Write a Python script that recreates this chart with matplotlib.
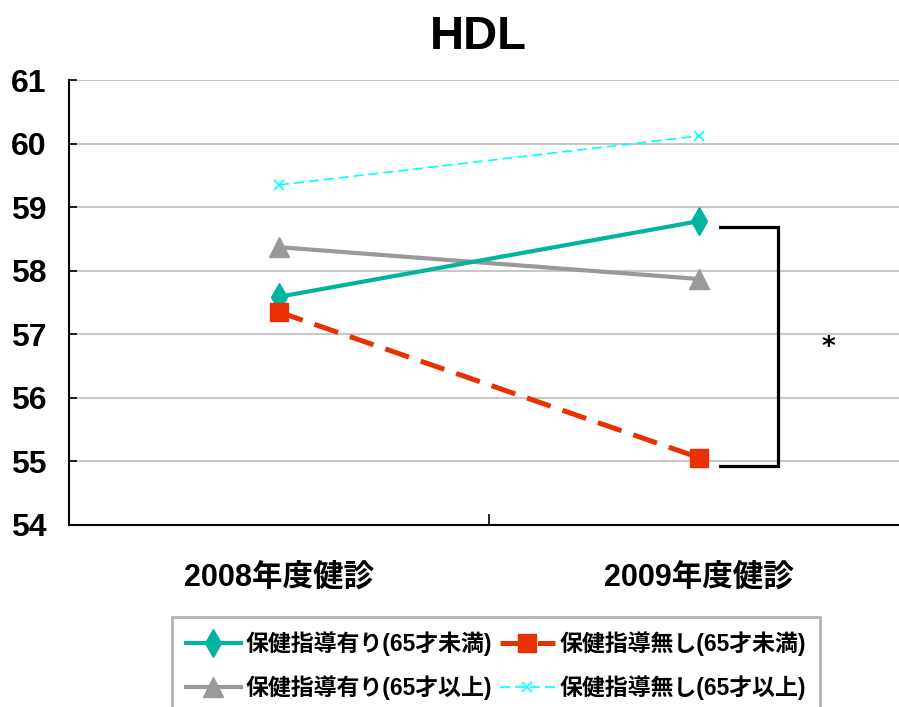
import matplotlib
matplotlib.use("Agg")
import matplotlib.pyplot as plt
from matplotlib.ticker import FixedLocator

# data
categories = ["2008年度健診", "2009年度健診"]
with_guidance_u65 = [57.59, 58.78]
without_guidance_u65 = [57.35, 55.06]
with_guidance_65up = [58.37, 57.87]
without_guidance_65up = [59.35, 60.12]
series_labels = ["保健指導有り(65才未満)", "保健指導無し(65才未満)",
                 "保健指導有り(65才以上)", "保健指導無し(65才以上)"]
yticks = [54, 55, 56, 57, 58, 59, 60, 61]

num_font = ["Liberation Sans", "DejaVu Sans"]
jp_font = ["Liberation Sans", "Noto Sans CJK JP", "DejaVu Sans"]

fig = plt.figure(figsize=(8.99, 7.07), dpi=100)
ax = fig.add_axes([69 / 899, 182 / 707, 840 / 899, 445 / 707])

x = list(range(len(categories)))
l1, = ax.plot(x, with_guidance_u65, color="#00B4A0", lw=3, marker="d",
              ms=14, zorder=4)
l2, = ax.plot(x, without_guidance_u65, color="#E83000", lw=3.6,
              ls=(0, (5, 2.5)), marker="s", ms=13, zorder=4)
l3, = ax.plot(x, with_guidance_65up, color="#999999", lw=3, marker="^",
              ms=15, zorder=3)
l4, = ax.plot(x, without_guidance_65up, color="#00FFFF", lw=1.2,
              ls=(0, (6, 3)), marker="x", ms=7, mew=1.2, zorder=3)

ax.set_xlim(-0.5, 1.5)
ax.set_ylim(54, 61)
ax.set_yticks(yticks)
ax.set_xticks(x)
ax.set_xticklabels(categories, fontsize=22, fontweight="bold", family=jp_font)
ax.xaxis.set_minor_locator(FixedLocator([0.5]))
for t in ax.get_yticklabels():
    t.set_fontsize(23)
    t.set_fontweight("bold")
    t.set_family(num_font)
ax.tick_params(axis="y", direction="in", length=6, width=1.2, pad=16)
ax.tick_params(axis="x", which="major", length=0, pad=27)
ax.tick_params(axis="x", which="minor", direction="in", length=8, width=1.2)

ax.grid(axis="y", color="#C8C8C8", lw=1.5, zorder=0)
ax.set_axisbelow(True)
for s in ["top", "right"]:
    ax.spines[s].set_visible(False)
for s in ["left", "bottom"]:
    ax.spines[s].set_linewidth(1.5)

# significance bracket
bx0, bx1 = 1.05, 1.188
ax.plot([bx0, bx1, bx1, bx0], [58.69, 58.69, 54.93, 54.93], color="black",
        lw=2.3, solid_joinstyle="miter", clip_on=False, zorder=5)
ax.text(1.307, 56.78, "*", fontsize=19, fontweight="bold",
        ha="center", va="center")

fig.text(0.532, 0.947, "HDL", fontsize=34, fontweight="bold",
         family=["Liberation Sans", "DejaVu Sans"], ha="center", va="center")

leg = fig.legend([l1, l3, l2, l4],
                 [series_labels[0], series_labels[2], series_labels[1], series_labels[3]],
                 ncol=2, loc="upper left", bbox_to_anchor=(172 / 899, 1 - 617 / 707),
                 prop={"family": jp_font, "weight": "bold", "size": 16.5},
                 frameon=True, fancybox=False, edgecolor="#A0A0A0",
                 handlelength=2.4, handletextpad=0.2, columnspacing=0.35,
                 borderpad=0.6, labelspacing=0.85, borderaxespad=0)
leg.get_frame().set_linewidth(2)

fig.savefig("out.png", dpi=100)
